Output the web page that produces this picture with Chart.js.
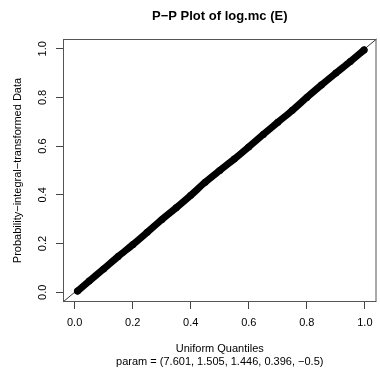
<!DOCTYPE html>
<html>
<head>
<meta charset="utf-8">
<script src="https://cdn.jsdelivr.net/npm/chart.js@4/dist/chart.umd.min.js"></script>
<style>
html,body{margin:0;padding:0;background:#fff;}
#wrap{width:380px;height:371px;}
</style>
</head>
<body>
<div id="wrap"><canvas id="c" width="380" height="371"></canvas></div>
<script>
// Data
const uniformQuantiles = [0.01,0.05,0.10,0.15,0.20,0.25,0.30,0.35,0.40,0.45,0.50,0.55,0.60,0.65,0.70,0.75,0.80,0.85,0.90,0.95,0.997];
const transformedData  = [0.005,0.046,0.096,0.147,0.195,0.246,0.298,0.347,0.398,0.452,0.500,0.547,0.597,0.648,0.698,0.747,0.800,0.851,0.900,0.948,0.995];
const tickValues = [0, 0.2, 0.4, 0.6, 0.8, 1.0];
const tickLabels = ["0.0","0.2","0.4","0.6","0.8","1.0"];
const axisLimits = [-0.04, 1.04];
const mainTitle = "P\u2212P Plot of log.mc (E)";
const xTitle = ["Uniform Quantiles", "param = (7.601, 1.505, 1.446, 0.396, \u22120.5)"];
const yTitle = "Probability\u2212integral\u2212transformed Data";

const FONT = "'Liberation Sans', Arial, sans-serif";

const points = uniformQuantiles.map((x, i) => ({x: x, y: transformedData[i]}));
const refLine = axisLimits.map(v => ({x: v, y: v}));

const boxPlugin = {
  id: 'box',
  afterDatasetsDraw(chart) {
    const {ctx, chartArea: a} = chart;
    ctx.save();
    ctx.strokeStyle = '#555';
    ctx.lineWidth = 1;
    ctx.strokeRect(a.left + 0.5, a.top + 0.5, a.right - a.left - 1, a.bottom - a.top - 1);
    ctx.restore();
  },
  afterDraw(chart) {
    const {ctx, chartArea: a} = chart;
    ctx.save();
    ctx.fillStyle = '#000';
    ctx.font = "bold 13px " + FONT;
    ctx.textAlign = 'center';
    ctx.textBaseline = 'alphabetic';
    ctx.fillText(mainTitle, (a.left + a.right) / 2, 20);
    ctx.restore();
  }
};

const tickFmt = (v) => {
  const i = tickValues.findIndex(t => Math.abs(t - v) < 1e-9);
  return i >= 0 ? tickLabels[i] : '';
};

new Chart(document.getElementById('c'), {
  type: 'scatter',
  data: {
    datasets: [
      {
        data: refLine,
        showLine: true,
        borderColor: '#333',
        borderWidth: 1,
        pointRadius: 0,
        clip: false,
        order: 2
      },
      {
        data: points,
        showLine: true,
        borderColor: '#000',
        backgroundColor: '#000',
        borderWidth: 7,
        borderCapStyle: 'round',
        borderJoinStyle: 'round',
        pointRadius: 3.5,
        pointBorderWidth: 0,
        pointHoverRadius: 3.5,
        tension: 0.3,
        order: 1
      }
    ]
  },
  options: {
    responsive: false,
    animation: false,
    devicePixelRatio: 1,
    layout: {padding: {top: 39, right: 0, bottom: 0, left: 0}},
    plugins: {
      legend: {display: false},
      tooltip: {enabled: false},
      title: {display: false}
    },
    scales: {
      x: {
        type: 'linear',
        min: axisLimits[0],
        max: axisLimits[1],
        afterBuildTicks(s) { s.ticks = tickValues.map(v => ({value: v})); },
        afterFit(s) { s.height = 69; },
        grid: {display: true, drawOnChartArea: false, drawTicks: true, tickLength: 7, color: '#444', lineWidth: 1},
        border: {display: false},
        ticks: {
          callback: tickFmt,
          font: {family: FONT, size: 11},
          color: '#000',
          padding: 7,
          maxRotation: 0,
          minRotation: 0,
          autoSkip: false
        },
        title: {
          display: true,
          text: xTitle,
          font: {family: FONT, size: 11, lineHeight: '13px'},
          color: '#000',
          padding: {top: 0, bottom: 3}
        }
      },
      y: {
        type: 'linear',
        min: axisLimits[0],
        max: axisLimits[1],
        afterBuildTicks(s) { s.ticks = tickValues.map(v => ({value: v})); },
        afterFit(s) { s.width = 63; },
        grid: {display: true, drawOnChartArea: false, drawTicks: true, tickLength: 7, color: '#444', lineWidth: 1},
        border: {display: false},
        ticks: {
          callback: tickFmt,
          font: {family: FONT, size: 11},
          color: '#000',
          padding: 5,
          minRotation: 90,
          maxRotation: 90,
          crossAlign: 'center',
          autoSkip: false
        },
        title: {
          display: true,
          text: yTitle,
          font: {family: FONT, size: 11, lineHeight: '13px'},
          color: '#000',
          padding: {top: 11, bottom: 0}
        }
      }
    }
  },
  plugins: [boxPlugin]
});
</script>
</body>
</html>
